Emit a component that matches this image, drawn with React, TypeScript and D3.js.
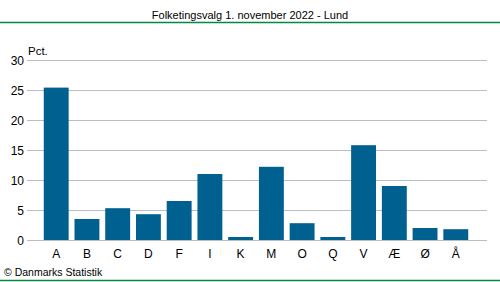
import React from "react";
import * as d3 from "d3";

const categories = ["A", "B", "C", "D", "F", "I", "K", "M", "O", "Q", "V", "Æ", "Ø", "Å"];
const values = [25.4, 3.5, 5.3, 4.3, 6.5, 11.0, 0.5, 12.2, 2.8, 0.5, 15.8, 9.0, 2.0, 1.8];
const yTicks = [0, 5, 10, 15, 20, 25, 30];
const title = "Folketingsvalg 1. november 2022 - Lund";
const unitLabel = "Pct.";
const credit = "© Danmarks Statistik";

const W = 500;
const H = 282;
const FONT = "'Liberation Sans', Arial, sans-serif";

export default function App() {
  const y = d3.scaleLinear().domain([0, 30]).range([240, 60]);
  const x = d3.scaleBand<string>().domain(categories).range([41, 471]).paddingInner(0.19).paddingOuter(0.09);
  const gridX0 = 27;
  const gridX1 = 487;
  return (
    <svg width={W} height={H} style={{ position: "absolute", left: 0, top: 0, background: "#fff" }} fontFamily={FONT}>
      <text x={250} y={19} textAnchor="middle" fontSize={11} fill="#000">{title}</text>
      <line x1={0} x2={W} y1={22.5} y2={22.5} stroke="#008a45" strokeWidth={1.5} />
      {yTicks.map((t) => (
        <g key={t}>
          <line x1={gridX0} x2={gridX1} y1={y(t) + 0.5} y2={y(t) + 0.5} stroke="#bcbcc4" strokeWidth={1} />
          <text x={24} y={y(t) + 4.5} textAnchor="end" fontSize={12} fill="#000">{t}</text>
        </g>
      ))}
      <text x={28} y={55} fontSize={11.5} fill="#000">{unitLabel}</text>
      {categories.map((c, i) => (
        <rect key={c} x={x(c)} width={x.bandwidth()} y={y(values[i])} height={y(0) - y(values[i])} fill="#006090" />
      ))}
      {categories.map((c) => (
        <text key={c} x={(x(c) as number) + x.bandwidth() / 2} y={258} textAnchor="middle" fontSize={12} fill="#000">{c}</text>
      ))}
      <text x={4} y={276} fontSize={10.5} fill="#000">{credit}</text>
      <line x1={0} x2={W} y1={280.5} y2={280.5} stroke="#008a45" strokeWidth={1.5} />
    </svg>
  );
}
